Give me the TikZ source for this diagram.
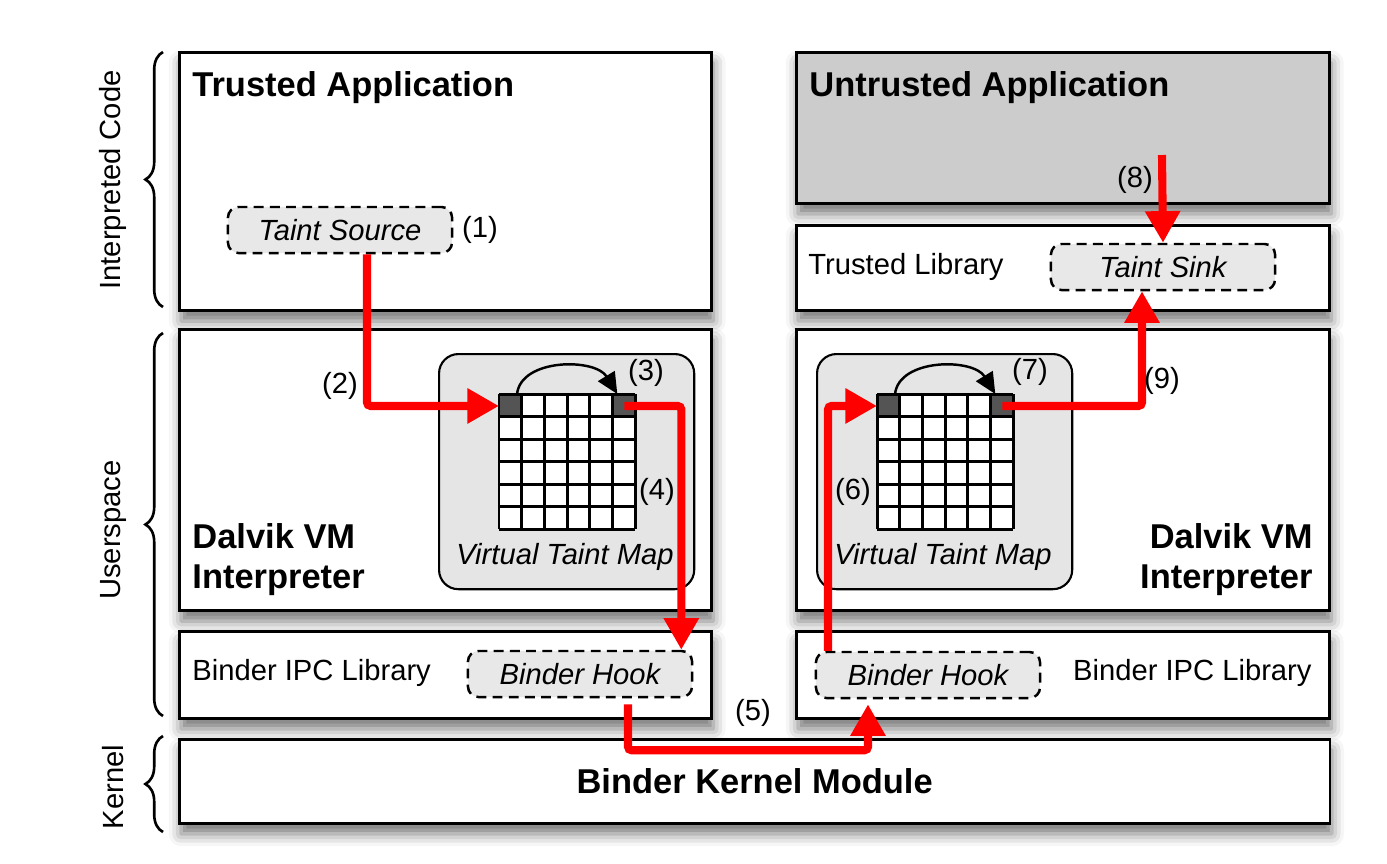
\documentclass[tikz,border=0pt]{standalone}
\usepackage{fontspec}
\setmainfont{Liberation Sans}
\usetikzlibrary{arrows.meta,calc,positioning,shadows.blur,decorations.pathreplacing}

\definecolor{taintred}{RGB}{255,0,0}
\colorlet{hookgray}{black!9}
\colorlet{mapgray}{black!10}
\colorlet{appgray}{black!20}
\colorlet{cellgray}{black!67}

\tikzset{
  txt/.style={font=\fontsize{8.3}{10}\selectfont},
  bigtxt/.style={font=\fontsize{9.8}{11.4}\selectfont\bfseries},
  layer/.style={draw, line width=0.75pt, fill=white, anchor=north west,
    blur shadow={shadow xshift=0.5pt, shadow yshift=-3pt, shadow blur radius=3.5pt, shadow opacity=55}},
  taint/.style={draw, line width=0.7pt, dash pattern=on 2.8pt off 1.8pt, rounded corners=3pt,
    fill=hookgray, minimum width=2.24cm, minimum height=0.46cm,
    font=\fontsize{8.3}{10}\selectfont\itshape},
  vtm/.style={draw, line width=0.6pt, fill=mapgray, rounded corners=5.5pt, anchor=north west,
    minimum width=2.55cm, minimum height=2.35cm},
  cell/.style={fill=cellgray, anchor=north west, inner sep=0pt,
    minimum width=0.2267cm, minimum height=0.225cm},
  gridline/.style={line width=0.85pt},
  hop/.style={line width=0.7pt, -{Triangle[length=6pt,width=5.5pt]}},
  flow/.style={draw=taintred, line width=2.3pt, rounded corners=1pt,
    -{Triangle[length=9pt,width=9.5pt]}},
  brace/.style={decorate, decoration={brace, amplitude=5pt}, line width=0.75pt},
}

\begin{document}
\begin{tikzpicture}[x=0.01cm, y=-0.01cm]
\useasboundingbox (0,0) rectangle (1387,863);

% layers
\node[layer, minimum width=5.32cm, minimum height=2.58cm] (tapp) at (178,51) {};
\node[layer, fill=appgray, minimum width=5.33cm, minimum height=1.51cm] (uapp) at (795,51) {};
\node[layer, minimum width=5.33cm, minimum height=0.85cm] (tlib) at (795,224) {};
\node[layer, minimum width=5.32cm, minimum height=2.81cm] (dvmL) at (178,328) {};
\node[layer, minimum width=5.33cm, minimum height=2.81cm] (dvmR) at (795,328) {};
\node[layer, minimum width=5.32cm, minimum height=0.87cm] (ipcL) at (178,630) {};
\node[layer, minimum width=5.33cm, minimum height=0.87cm] (ipcR) at (795,630) {};
\node[layer, minimum width=11.50cm, minimum height=0.84cm] (kern) at (178,738) {};

\node[bigtxt, anchor=base west] at (180,96) {Trusted Application};
\node[bigtxt, anchor=base west] at (797,96) {Untrusted Application};
\node[txt, anchor=west] at (796,267) {Trusted Library};
\node[bigtxt, anchor=west, align=left] at (180,560) {Dalvik VM\\Interpreter};
\node[bigtxt, anchor=east, align=right] at (1325,560) {Dalvik VM\\Interpreter};
\node[txt, anchor=west] at (180,673) {Binder IPC Library};
\node[txt, anchor=east] at (1324,673) {Binder IPC Library};
\node[bigtxt] at (kern.center) {Binder Kernel Module};

% taint points
\node[taint] (src) at (340,230) {Taint Source};
\node[taint] (sink) at (1163,267) {Taint Sink};
\node[taint] (hookL) at (580,674) {Binder Hook};
\node[taint] (hookR) at (928,675) {Binder Hook};

% virtual taint maps
\foreach \gx/\s in {499/L,877/R} {
  \node[vtm] (map\s) at (\gx-61,353) {};
  \node[font=\fontsize{8.3}{10}\selectfont\itshape] at (\gx+66,557) {Virtual Taint Map};
  \fill[white] (\gx,394) rectangle ++(136,135);
  \node[cell] (in\s) at (\gx,394) {};
  \node[cell] (out\s) at (\gx+113.3,394) {};
  \foreach \k in {0,...,6} {
    \draw[gridline] (\gx+\k*22.67,394) -- ++(0,135);
    \draw[gridline] (\gx,394+\k*22.5) -- ++(136,0);
  }
  \draw[hop] ($(in\s.north)+(6,0)$) .. controls +(4,-36) and +(-22,-36) .. ($(out\s.north west)+(5,0)$);
}

% side braces
\draw[brace] (163,307) -- (163,52);
\draw[brace] (163,716) -- (163,333);
\draw[brace] (163,832) -- (163,736);
\node[txt, rotate=90] at (113,180) {Interpreted Code};
\node[txt, rotate=90] at (113,530) {Userspace};
\node[txt, rotate=90] at (113,787) {Kernel};

% taint flow
\coordinate (sinkcall) at (1162,155);
\draw[flow] ($(src.south)+(27,0)$) |- (inL.west);
\draw[flow] (outL.center) -| ($(hookL.north east)+(-12,0)$);
\draw[flow] ($(hookL.south)+(48,6)$) -- ++(0,46) -| ($(hookR.south)+(-60,5)$);
\draw[flow] ($(hookR.north)+(-100,0)$) |- (inR.west);
\draw[flow] (outR.center) -| ($(sink.south)+(-21,0)$);
\draw[flow] (sinkcall) -- (sink.north);

\node[txt] at (480,230) {(1)};
\node[txt] at (340,386) {(2)};
\node[txt] at (646,373) {(3)};
\node[txt] at (657,492) {(4)};
\node[txt] at (753,713) {(5)};
\node[txt] at (853,492) {(6)};
\node[txt] at (1030,372) {(7)};
\node[txt] at (1135,180) {(8)};
\node[txt] at (1162,381) {(9)};

\end{tikzpicture}
\end{document}
